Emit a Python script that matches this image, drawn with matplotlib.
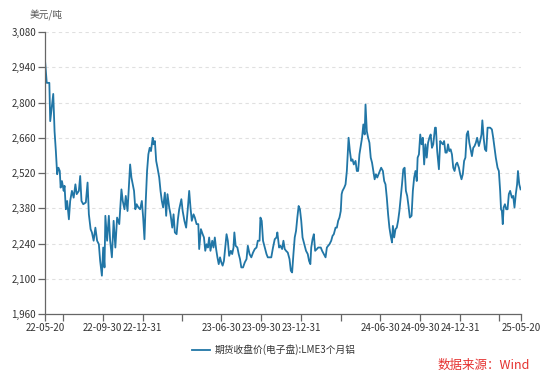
import numpy as np
import matplotlib.pyplot as plt
import pandas as pd

plt.rcParams['font.family'] = ['Noto Sans CJK SC', 'DejaVu Sans']

# days since 2022-05-20
day_offsets = [
    0, 4, 10, 12, 19, 22, 25, 28, 31, 34, 36, 39, 43, 45, 48, 51, 55, 58, 62, 66,
    70, 73, 78, 81, 84, 88, 94, 98, 101, 105, 108, 112, 116, 120, 124, 127, 131, 134, 137, 139,
    143, 147, 150, 154, 158, 162, 166, 171, 176,
    179, 183, 186, 190, 193, 196, 199, 202, 205, 208, 211, 215, 219, 223, 226, 229, 232, 235, 238, 241,
    244, 248, 250, 253, 256, 259, 263, 266, 269, 272, 276, 279, 282, 286, 289, 293, 296, 299, 303, 306,
    309, 314, 317, 321, 325, 329, 332, 335, 338, 342, 345, 349, 353, 355,
    359, 363, 366, 369, 372, 375, 378, 381, 385, 388, 391, 394, 397, 400, 403, 406, 409, 412, 415, 418,
    421, 424, 428, 431, 434, 436, 439, 443, 446, 449, 452, 456, 460, 464, 467, 471, 475, 479, 483, 487,
    490, 494, 496, 499, 502, 506, 510, 513, 517, 521, 525, 529, 533, 535, 539,
    542, 546, 549, 552, 555, 559, 563, 566, 569, 572, 575, 578, 581, 584, 587, 590, 593, 597, 601, 605,
    608, 611, 613, 616, 619, 622, 626, 629, 632, 635, 638, 642, 646, 649, 652, 655, 659, 662, 665, 669,
    672, 675, 678, 681, 683, 685, 689, 692, 695, 697, 699, 702, 705, 708, 711, 715, 718,
    721, 724, 727, 730, 733, 736, 738, 741, 744, 747, 750, 753, 756, 759, 762, 765, 768, 771, 774, 778,
    781, 784, 787, 790, 793, 796, 799, 801, 804, 807, 810, 813, 816, 819, 822, 825, 828, 831, 834, 837,
    840, 844, 847, 850, 853, 856, 858, 861, 864, 867, 870, 873, 876, 879, 882, 885, 888, 891, 894, 898,
    900, 903, 907, 910, 913, 916, 919, 922, 925, 928, 931, 934, 937, 940, 943, 946, 949, 953, 956, 959,
    962, 965, 968, 971, 974, 977, 980, 983, 986, 989, 992, 995, 999, 1002, 1005, 1007, 1010, 1013, 1016, 1019,
    1022, 1025, 1029, 1032, 1035, 1038, 1042, 1045, 1048, 1050, 1052, 1054, 1056, 1059, 1062, 1065, 1068, 1071, 1075, 1078,
    1081, 1084, 1087, 1089, 1092, 1095,
]

# LME 3-month aluminium close, USD/t
lme_price = [
    2968, 2878, 2878, 2726, 2834, 2686, 2607, 2515, 2541, 2528, 2462, 2488, 2449, 2469, 2376, 2409, 2336, 2409, 2449, 2422,
    2475, 2436, 2449, 2508, 2409, 2396, 2403, 2482, 2356, 2297, 2284, 2251, 2303, 2251, 2237, 2171, 2112, 2224, 2145, 2350,
    2251, 2350, 2251, 2185, 2330, 2224, 2343, 2317, 2455,
    2409, 2376, 2429, 2369, 2462, 2554, 2502, 2475, 2449, 2376, 2396, 2383, 2376, 2409, 2343, 2257, 2409, 2528, 2594, 2620,
    2607, 2660, 2634, 2647, 2568, 2541, 2502, 2449, 2409, 2383, 2442, 2350, 2436, 2383, 2356, 2303, 2356, 2284, 2277, 2336,
    2376, 2416, 2369, 2330, 2303, 2383, 2449, 2383, 2330, 2356, 2343, 2317, 2317, 2218,
    2297, 2277, 2264, 2211, 2237, 2224, 2264, 2211, 2251, 2224, 2264, 2218, 2185, 2158, 2185, 2165, 2152, 2171, 2224, 2277,
    2251, 2191, 2211, 2198, 2224, 2284, 2231, 2224, 2198, 2178, 2145, 2145, 2165, 2178, 2231, 2198, 2185, 2204, 2218, 2224,
    2251, 2251, 2343, 2330, 2251, 2224, 2198, 2185, 2185, 2185, 2224, 2257, 2264, 2284, 2224,
    2231, 2218, 2251, 2218, 2211, 2204, 2178, 2132, 2125, 2198, 2264, 2290, 2343, 2389, 2376, 2330, 2264, 2237, 2211, 2198,
    2171, 2158, 2224, 2257, 2277, 2211, 2218, 2224, 2224, 2224, 2211, 2198, 2185, 2224, 2231, 2237, 2251, 2270, 2277, 2303,
    2303, 2330, 2343, 2369, 2436, 2449, 2462, 2475, 2528, 2594, 2660, 2607, 2568, 2574, 2554, 2568, 2528,
    2528, 2594, 2627, 2660, 2713, 2673, 2792, 2686, 2660, 2640, 2581, 2561, 2528, 2495, 2515, 2502, 2515, 2528, 2541, 2528,
    2488, 2475, 2422, 2356, 2303, 2270, 2244, 2310, 2264, 2297, 2303, 2330, 2369, 2422, 2475, 2535, 2541, 2449, 2429, 2389,
    2343, 2350, 2449, 2502, 2528, 2488, 2581, 2594, 2673, 2634, 2660, 2554, 2634, 2581, 2640, 2660, 2673, 2620, 2634, 2700,
    2700, 2607, 2535, 2647, 2640, 2634, 2647, 2601, 2601, 2634, 2607, 2614, 2594, 2541, 2528, 2554, 2561, 2541, 2515, 2495,
    2515, 2568, 2581, 2673, 2686, 2640, 2614, 2587, 2620, 2627, 2640, 2660, 2627, 2647, 2673, 2729, 2660, 2614, 2607, 2700,
    2700, 2700, 2693, 2660, 2620, 2581, 2541, 2528, 2449, 2376, 2369, 2317, 2383, 2396, 2376, 2376, 2436, 2449, 2422, 2429,
    2383, 2436, 2475, 2528, 2475, 2455,
]

tick_dates = ['2022-05-20', '2022-06-30', '2022-09-30', '2022-12-31', '2023-03-31',
              '2023-06-30', '2023-09-30', '2023-12-31', '2024-03-31', '2024-06-30',
              '2024-09-30', '2024-12-31', '2025-03-31', '2025-05-20']
tick_labels = ['22-05-20', '', '22-09-30', '22-12-31', '',
               '23-06-30', '23-09-30', '23-12-31', '', '24-06-30',
               '24-09-30', '24-12-31', '', '25-05-20']
y_ticks = [1960, 2100, 2240, 2380, 2520, 2660, 2800, 2940, 3080]

start = pd.Timestamp('2022-05-20')
dates = start + pd.to_timedelta(day_offsets, unit='D')

fig = plt.figure(figsize=(5.5, 3.82), dpi=100)
ax = fig.add_axes([45 / 550, 1 - 314 / 382, 476 / 550, 282 / 382])

ax.plot(dates, lme_price, color='#2176a6', lw=1.3,
        label='期货收盘价(电子盘):LME3个月铝')

ax.set_ylim(1960, 3080)
ax.set_yticks(y_ticks)
ax.set_yticklabels([f'{v:,}' for v in y_ticks])
ax.set_xlim(start, pd.Timestamp('2025-05-20'))
ax.set_xticks(pd.to_datetime(tick_dates))
ax.set_xticklabels(tick_labels)

ax.yaxis.grid(True, ls=(0, (3, 3)), color='#e0e0e0', lw=0.8)
ax.set_axisbelow(True)
for side in ['top', 'right']:
    ax.spines[side].set_visible(False)
for side in ['left', 'bottom']:
    ax.spines[side].set_color('#666666')
    ax.spines[side].set_linewidth(0.9)
ax.tick_params(axis='both', colors='#666666', length=5, width=0.9,
               labelsize=7, labelcolor='#333333', pad=1.5)

fig.text(46 / 550, 1 - 15 / 382, '美元/吨', ha='center', va='center',
         fontsize=7, color='#555555')
ax.legend(loc='center', bbox_to_anchor=(274 / 550, 1 - 350 / 382),
          bbox_transform=fig.transFigure, frameon=False, fontsize=7,
          handlelength=1.8, handletextpad=0.5, labelcolor='#333333')
fig.text(438 / 550, 1 - 365 / 382, '数据来源：Wind', ha='left', va='center',
         fontsize=9, color='#e5312f')

fig.savefig('out.png', dpi=100)
